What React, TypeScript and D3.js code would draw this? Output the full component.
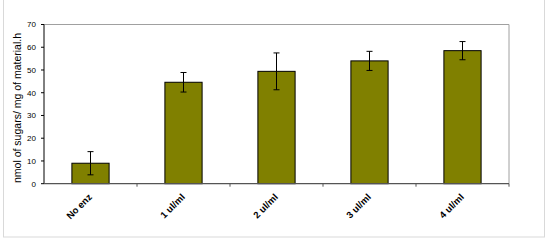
import React from "react";
import * as d3 from "d3";

const categories = ["No enz", "1 ul/ml", "2 ul/ml", "3 ul/ml", "4 ul/ml"];
const values = [9.0, 44.6, 49.4, 54.0, 58.5];
const errors = [5.1, 4.3, 8.1, 4.2, 4.0];
const yTicks = [0, 10, 20, 30, 40, 50, 60, 70];
const yLabel = "nmol of sugars/ mg of material.h";

export default function App() {
  const left = 44, right = 509, top = 24.5, bottom = 183.7;
  const x = d3.scaleBand<string>().domain(categories).range([left, right]).paddingInner(0.6).paddingOuter(0.3);
  const band = d3.scaleBand<string>().domain(categories).range([left, right]);
  const y = d3.scaleLinear().domain([0, 70]).range([bottom, top]);
  const font = "Arial, 'Liberation Sans', sans-serif";
  return (
    <svg width={557} height={240} style={{ position: "absolute", left: 0, top: 0 }} fontFamily={font}>
      <rect x={0} y={0} width={557} height={240} fill="#fff" />
      <rect x={3.5} y={-2} width={541} height={239} fill="none" stroke="#d9d9d9" strokeWidth={1} />
      {/* plot frame top/right */}
      <line x1={left} x2={right} y1={top} y2={top} stroke="#a0a0a0" strokeWidth={1} />
      <line x1={right} x2={right} y1={top} y2={bottom} stroke="#a0a0a0" strokeWidth={1} />
      {categories.map((c, i) => {
        const v = values[i];
        const e = errors[i];
        const cx = x(c)! + x.bandwidth() / 2;
        return (
          <g key={c}>
            <rect x={x(c)!} y={y(v)} width={x.bandwidth()} height={bottom - y(v)} fill="#808000" stroke="#000" strokeWidth={1} />
            <line x1={cx} x2={cx} y1={y(v + e)} y2={y(v - e)} stroke="#000" strokeWidth={1} />
            <line x1={cx - 3} x2={cx + 3} y1={y(v + e)} y2={y(v + e)} stroke="#000" strokeWidth={1} />
            <line x1={cx - 3} x2={cx + 3} y1={y(v - e)} y2={y(v - e)} stroke="#000" strokeWidth={1} />
            <text
              transform={`translate(${band(c)! + band.bandwidth() / 2 + 2},${bottom + 14}) rotate(-45)`}
              textAnchor="end"
              fontSize={9.5}
              fontWeight="bold"
              fill="#000"
            >{c}</text>
          </g>
        );
      })}
      {/* y axis */}
      <line x1={left} x2={left} y1={top} y2={bottom} stroke="#000" strokeWidth={1} />
      {yTicks.map((t) => (
        <g key={t}>
          <line x1={left - 3} x2={left} y1={y(t)} y2={y(t)} stroke="#000" />
          <text x={left - 8} y={y(t)} dy="0.35em" textAnchor="end" fontSize={8} fill="#000">{t}</text>
        </g>
      ))}
      {/* x axis */}
      <line x1={left} x2={right} y1={bottom} y2={bottom} stroke="#555" strokeWidth={1.3} />
      {categories.map((c) => (
        <line key={c} x1={band(c)! + band.bandwidth()} x2={band(c)! + band.bandwidth()} y1={bottom} y2={bottom + 3} stroke="#555" />
      ))}
      <text transform={`translate(21,108) rotate(-90)`} textAnchor="middle" fontSize={10.5} fill="#000">{yLabel}</text>
    </svg>
  );
}
